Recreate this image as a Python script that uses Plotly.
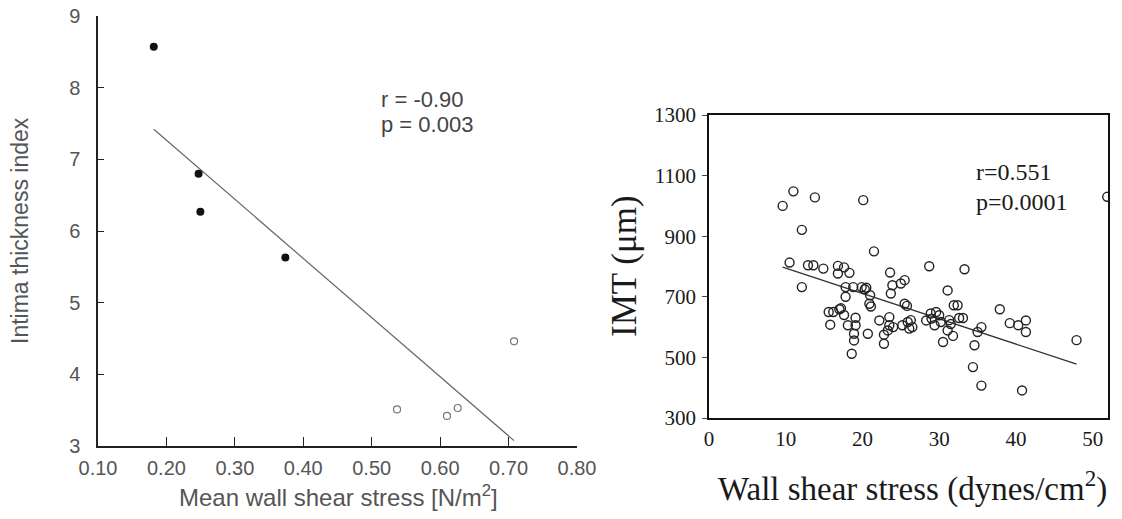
import numpy as np
import plotly.graph_objects as go

# ---- Left panel: intima thickness index vs mean wall shear stress ----
wss_filled = [0.1815, 0.247, 0.2496, 0.3738]
iti_filled = [8.57, 6.80, 6.27, 5.63]
wss_open = [0.537, 0.610, 0.6257, 0.708]
iti_open = [3.51, 3.42, 3.53, 4.46]
left_xticks = [0.10, 0.20, 0.30, 0.40, 0.50, 0.60, 0.70, 0.80]
left_yticks = [3, 4, 5, 6, 7, 8, 9]

# ---- Right panel: IMT vs wall shear stress ----
shear = [
    9.6, 11.0, 13.8, 20.1, 12.1, 21.5,
    10.5, 12.9, 13.6, 14.9, 16.8, 16.8, 17.6, 18.3,
    12.1, 17.8, 18.8, 19.9, 20.5, 17.8, 21.0, 20.9, 21.1,
    23.6, 23.9, 25.0, 25.5, 23.7, 25.5, 25.8,
    15.6, 16.2, 17.0, 17.6, 15.8, 18.1, 19.1, 19.1, 18.9, 18.9, 18.6, 20.7,
    22.2, 23.5, 23.3, 22.8, 23.5, 25.2, 25.9, 26.1, 26.3,
    28.3, 28.7, 28.9, 29.6, 30.0, 29.4, 30.2, 30.5, 31.1,
    31.1, 31.9, 32.4, 31.3, 31.8, 32.6, 33.1, 33.3,
    35.0, 35.5, 34.6, 34.4, 35.5,
    37.9, 39.2, 40.3, 41.3, 41.3, 40.8, 47.9,
    24.0, 26.5, 20.3, 22.8, 17.2, 29.0, 31.5, 51.9,
]
imt = [
    1000, 1048, 1028, 1019, 921, 850,
    813, 804, 804, 793, 802, 777, 797, 779,
    732, 732, 732, 732, 730, 700, 705, 677, 668,
    780, 738, 744, 755, 711, 677, 670,
    650, 650, 659, 640, 608, 606, 631, 606, 578, 556, 512, 578,
    622, 633, 589, 545, 606, 606, 617, 595, 623,
    622, 801, 645, 650, 639, 606, 617, 551, 589,
    721, 672, 672, 623, 571, 630, 630, 791,
    584, 600, 540, 468, 407,
    659, 613, 606, 622, 584, 391, 557,
    600, 600, 725, 575, 662, 628, 610, 1030,
]
right_xticks = [0, 10, 20, 30, 40, 50]
right_yticks = [300, 500, 700, 900, 1100, 1300]


def fit_line(x, y):
    x = np.asarray(x, float)
    y = np.asarray(y, float)
    k, b = np.polyfit(x, y, 1)
    xs = np.array([x.min(), x.max()])
    return xs, k * xs + b


left_x = wss_filled + wss_open
left_y = iti_filled + iti_open
lfx, lfy = fit_line(left_x, left_y)

# regression over the points lying inside the frame
in_frame = [(a, b) for a, b in zip(shear, imt) if a <= 50]
rfx, rfy = fit_line([p[0] for p in in_frame], [p[1] for p in in_frame])

fig = go.Figure()

# left panel traces
fig.add_trace(go.Scatter(x=lfx, y=lfy, mode="lines",
                         line=dict(color="#666666", width=1.2),
                         xaxis="x", yaxis="y", showlegend=False))
fig.add_trace(go.Scatter(x=wss_filled, y=iti_filled, mode="markers",
                         marker=dict(symbol="circle", size=8, color="#111111"),
                         xaxis="x", yaxis="y", showlegend=False))
fig.add_trace(go.Scatter(x=wss_open, y=iti_open, mode="markers",
                         marker=dict(symbol="circle-open", size=7, color="#777777",
                                     line=dict(width=1.2)),
                         xaxis="x", yaxis="y", showlegend=False))

# right panel traces
fig.add_trace(go.Scatter(x=rfx, y=rfy, mode="lines",
                         line=dict(color="#333333", width=1.3),
                         xaxis="x2", yaxis="y2", showlegend=False))
fig.add_trace(go.Scatter(x=shear, y=imt, mode="markers",
                         marker=dict(symbol="circle-open", size=9, color="#222222",
                                     line=dict(width=1.4)),
                         xaxis="x2", yaxis="y2", showlegend=False))

W, H = 1122, 519
sans = "Liberation Sans, Arial, sans-serif"
serif = "Liberation Serif, Times New Roman, serif"
grey = "#555555"

fig.update_layout(
    width=W, height=H,
    margin=dict(l=0, r=0, t=0, b=0),
    paper_bgcolor="white", plot_bgcolor="white",
    xaxis=dict(domain=[98 / W, 577 / W], anchor="y", automargin=False,
               range=[0.10, 0.80], tickvals=left_xticks,
               ticktext=[f"{v:.2f}" for v in left_xticks],
               showgrid=False, zeroline=False,
               showline=True, linecolor="#222222", linewidth=1.5,
               ticks="inside", ticklen=9, tickcolor="#222222", tickwidth=1.2,
               tickfont=dict(family=sans, size=20, color=grey),
               ticklabelstandoff=3),
    yaxis=dict(domain=[(H - 446) / H, (H - 16) / H], anchor="x", automargin=False,
               range=[3, 9], tickvals=left_yticks,
               showgrid=False, zeroline=False,
               showline=True, linecolor="#222222", linewidth=1.5,
               ticks="inside", ticklen=6, tickcolor="#222222", tickwidth=1.2,
               tickfont=dict(family=sans, size=20, color=grey),
               ticklabelstandoff=12),
    xaxis2=dict(domain=[709 / W, 1108 / W], anchor="y2", automargin=False,
                range=[0, 52], tickvals=right_xticks,
                showgrid=False, zeroline=False,
                showline=True, mirror=True, linecolor="#111111", linewidth=1.6,
                ticks="", tickfont=dict(family=serif, size=21, color="#1a1a1a"),
                ticklabelstandoff=1),
    yaxis2=dict(domain=[(H - 418) / H, (H - 115) / H], anchor="x2", automargin=False,
                range=[300, 1300], tickvals=right_yticks,
                showgrid=False, zeroline=False,
                showline=True, mirror=True, linecolor="#111111", linewidth=1.6,
                ticks="outside", ticklen=5, tickcolor="#444444",
                tickfont=dict(family=serif, size=21, color="#1a1a1a"),
                ticklabelstandoff=2),
)

annotations = [
    # left panel titles and statistics
    dict(text="Mean wall shear stress [N/m<sup>2</sup>]", x=338 / W, y=(H - 496) / H,
         xref="paper", yref="paper", showarrow=False,
         font=dict(family=sans, size=24, color=grey), xanchor="center", yanchor="middle"),
    dict(text="Intima thickness index", x=20 / W, y=(H - 231) / H,
         xref="paper", yref="paper", showarrow=False, textangle=-90,
         font=dict(family=sans, size=23, color=grey), xanchor="center", yanchor="middle"),
    dict(text="r = -0.90", x=0.51, y=7.83, xref="x", yref="y", showarrow=False,
         font=dict(family=sans, size=22, color="#444444"), xanchor="left", yanchor="middle"),
    dict(text="p = 0.003", x=0.51, y=7.49, xref="x", yref="y", showarrow=False,
         font=dict(family=sans, size=22, color="#444444"), xanchor="left", yanchor="middle"),
    # right panel titles and statistics
    dict(text="Wall shear stress (dynes/cm<sup>2</sup>)", x=912 / W, y=(H - 486) / H,
         xref="paper", yref="paper", showarrow=False,
         font=dict(family=serif, size=33, color="#1a1a1a"), xanchor="center", yanchor="middle"),
    dict(text="IMT (μm)", x=624 / W, y=(H - 266) / H,
         xref="paper", yref="paper", showarrow=False, textangle=-90,
         font=dict(family=serif, size=35, color="#1a1a1a"), xanchor="center", yanchor="middle"),
    dict(text="r=0.551", x=34.6, y=1111, xref="x2", yref="y2", showarrow=False,
         font=dict(family=serif, size=24, color="#1a1a1a"), xanchor="left", yanchor="middle"),
    dict(text="p=0.0001", x=34.6, y=1012, xref="x2", yref="y2", showarrow=False,
         font=dict(family=serif, size=24, color="#1a1a1a"), xanchor="left", yanchor="middle"),
]
fig.update_layout(annotations=annotations)

fig.write_html("out.html")
